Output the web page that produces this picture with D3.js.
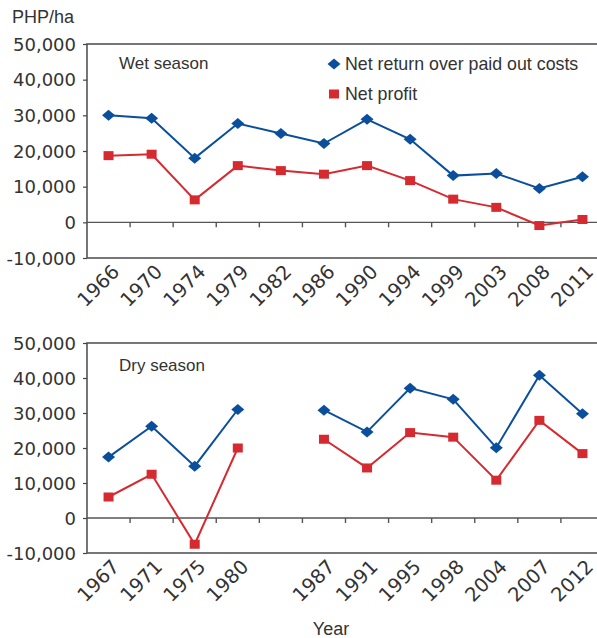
<!DOCTYPE html>
<meta charset="utf-8">
<script src="https://d3js.org/d3.v7.min.js"></script>
<style type="text/css">
body { margin: 0; background: #fff; }
svg { display: block; }
.axis text { font-family: "DejaVu Sans", sans-serif; font-size: 18px; fill: #333; }
.axis path { display: none; }
.axis line { stroke: #444; stroke-width: 1.2px; }
.xlab text { font-size: 19.5px; }
.frame { fill: none; stroke: #555; stroke-width: 1.6px; }
.zero { stroke: #555; stroke-width: 1.4px; }
.label { font-family: "Liberation Sans", sans-serif; font-size: 17px; fill: #333; }
.returnLine { fill: none; stroke: #0b4f9c; stroke-width: 2px; }
.profitLine { fill: none; stroke: #d62a31; stroke-width: 2px; }
.returnMark { fill: #0b4f9c; }
.profitMark { fill: #d62a31; }
</style>
<body></body>
<script>
// wet season
const wetYears = ["1966","1970","1974","1979","1982","1986","1990","1994","1999","2003","2008","2011"];
const wetReturn = [30000, 29200, 18000, 27700, 24900, 22100, 28900, 23300, 13100, 13700, 9500, 12800];
const wetProfit = [18700, 19100, 6300, 15900, 14500, 13500, 15900, 11700, 6500, 4200, -900, 800];

// dry season ("" = empty slot between 1980 and 1987)
const dryYears = ["1967","1971","1975","1980","","1987","1991","1995","1998","2004","2007","2012"];
const dryReturn = [17400, 26200, 14800, 31000, null, 30800, 24600, 37100, 33900, 20100, 40800, 29800];
const dryProfit = [6000, 12500, -7500, 20000, null, 22500, 14300, 24400, 23100, 10800, 27900, 18400];

const yTicks = [-10000, 0, 10000, 20000, 30000, 40000, 50000];

const width = 597, height = 638;
const left = 87, right = 604;

const SVG = d3.select("body").append("svg")
  .attr("width", width)
  .attr("height", height);

SVG.append("text").attr("class", "label")
  .attr("x", 12).attr("y", 23)
  .style("font-size", "18px")
  .text("PHP/ha");

SVG.append("text").attr("class", "label")
  .attr("x", 331).attr("y", 635)
  .attr("text-anchor", "middle")
  .style("font-size", "18px")
  .text("Year");

const commaFmt = d3.format(",");

function panel(years, ret, prof, top, bottom, title, titleDy) {
  const xScale = d3.scaleBand()
    .domain(d3.range(years.length))
    .range([left, right]);

  const yScale = d3.scaleLinear()
    .domain([-10000, 50000])
    .range([bottom, top]);

  const g = SVG.append("g");

  // frame
  g.append("rect").attr("class", "frame")
    .attr("x", left).attr("y", top)
    .attr("width", right - left).attr("height", bottom - top);

  // y axis (plain hyphen for negatives)
  const yAxis = d3.axisLeft(yScale)
    .tickValues(yTicks)
    .tickSize(4)
    .tickPadding(7)
    .tickFormat(d => commaFmt(d).replace("\u2212", "-"));
  g.append("g").attr("class", "y axis")
    .attr("transform", "translate(" + left + ",0)")
    .call(yAxis)
    .selectAll("text").attr("dy", "0.35em");

  // zero line with tick marks between categories
  const y0 = yScale(0);
  g.append("line").attr("class", "zero")
    .attr("x1", left).attr("x2", right)
    .attr("y1", y0).attr("y2", y0);
  g.selectAll(".xtick")
    .data(d3.range(1, years.length + 1))
    .enter().append("line")
    .attr("class", "zero")
    .attr("x1", d => left + xScale.step() * d)
    .attr("x2", d => left + xScale.step() * d)
    .attr("y1", y0).attr("y2", y0 + 5);

  // rotated year labels
  g.append("g").attr("class", "axis xlab")
    .selectAll("text")
    .data(years)
    .enter().append("text")
    .attr("text-anchor", "end")
    .attr("transform", (d, i) => "translate(" + (xScale(i) + xScale.bandwidth() / 2 + 12) + "," + (bottom + 15) + ") rotate(-45)")
    .text(d => d);

  g.append("text").attr("class", "label")
    .attr("x", left + 32).attr("y", top + titleDy)
    .text(title);

  const line = d3.line()
    .defined(d => d != null)
    .x((d, i) => xScale(i) + xScale.bandwidth() / 2)
    .y(d => yScale(d));

  g.append("path").attr("class", "returnLine").attr("d", line(ret));
  g.append("path").attr("class", "profitLine").attr("d", line(prof));

  const diamond = "M0,-5.5L6.5,0L0,5.5L-6.5,0Z";

  g.selectAll(".returnMark")
    .data(ret.map((v, i) => [v, i]).filter(d => d[0] != null))
    .enter().append("path")
    .attr("class", "returnMark")
    .attr("d", diamond)
    .attr("transform", d => "translate(" + (xScale(d[1]) + xScale.bandwidth() / 2) + "," + yScale(d[0]) + ")");

  g.selectAll(".profitMark")
    .data(prof.map((v, i) => [v, i]).filter(d => d[0] != null))
    .enter().append("rect")
    .attr("class", "profitMark")
    .attr("x", d => xScale(d[1]) + xScale.bandwidth() / 2 - 5)
    .attr("y", d => yScale(d[0]) - 4.5)
    .attr("width", 10).attr("height", 9);

  return g;
}

panel(wetYears, wetReturn, wetProfit, 44, 258, "Wet season", 25);
panel(dryYears, dryReturn, dryProfit, 343, 553, "Dry season", 28);

// legend
SVG.append("path").attr("class", "returnMark")
  .attr("d", "M0,-5.5L6.5,0L0,5.5L-6.5,0Z")
  .attr("transform", "translate(334,64)");
SVG.append("text").attr("class", "label")
  .attr("x", 345).attr("y", 70)
  .style("font-size", "17.8px")
  .text("Net return over paid out costs");
SVG.append("rect").attr("class", "profitMark")
  .attr("x", 329).attr("y", 89.5).attr("width", 10).attr("height", 9);
SVG.append("text").attr("class", "label")
  .attr("x", 345).attr("y", 100)
  .style("font-size", "17.8px")
  .text("Net profit");
</script>
